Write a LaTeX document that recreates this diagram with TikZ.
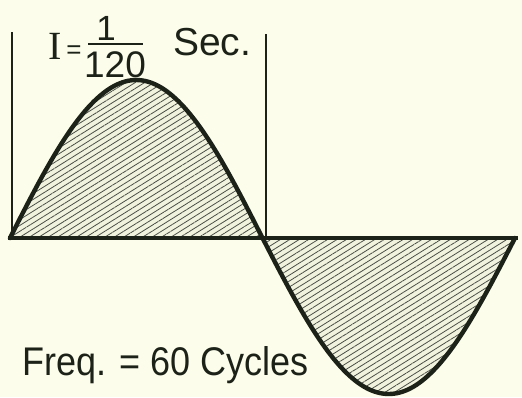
\documentclass[tikz,border=0pt]{standalone}
\usepackage{fontspec}
\setmainfont{Liberation Sans}
\newfontfamily\serifface{Liberation Serif}
\usetikzlibrary{patterns.meta}
\definecolor{paper}{HTML}{FCFDEB}
\definecolor{ink}{HTML}{1C2218}
\definecolor{hatchfill}{HTML}{F1F3DE}
\tikzset{
  wave/.style={ink, line width=4.4pt, line join=round, line cap=round},
  hatched/.style={preaction={fill=hatchfill}, pattern={Lines[angle=32, distance=5pt, line width=0.8pt]}, pattern color=ink!80},
  halfmark/.style={ink, line width=2.2pt},
  lbl/.style={ink, inner sep=0pt, anchor=base},
}
\begin{document}
\begin{tikzpicture}[x=1pt, y=-1pt]
        \useasboundingbox[fill=paper] (0,0) rectangle (522,397);

        % Hatched half waves
        \fill[hatched] plot[domain=0:180, samples=60] ({10+\x/180*252.5},{238-158*sin(\x)}) -- cycle;
        \fill[hatched] plot[domain=180:360, samples=60] ({10+\x/180*252.5},{238-156*sin(\x)}) -- cycle;

        % Axis and wave
        \coordinate (start) at (8,238);
        \coordinate (stop) at (518,238);
        \draw[ink, line width=3.2pt] (start) -- (stop);
        \draw[wave] plot[smooth, domain=0:180, samples=46] ({10+\x/180*252.5},{238-158*sin(\x)})
                    plot[smooth, domain=180:360, samples=46] ({10+\x/180*252.5},{238-156*sin(\x)});

        % Half period marks
        \coordinate (t0) at (12,238);
        \coordinate (t1) at (266,238);
        \draw[halfmark] (t0) -- ++(0,-206);
        \draw[halfmark] (t1) -- ++(0,-204);

        % Labels
        \node[lbl, font=\serifface\fontsize{40}{40}\selectfont] (ilab) at (55,59) {I};
        \node[lbl, font=\fontsize{26}{26}\selectfont] (eqlab) at (74,58) {=};
        \node[lbl, font=\fontsize{35}{35}\selectfont] (numlab) at (106,40) {1};
        \draw[ink, line width=2pt] (88,44) -- (143,44);
        \node[lbl, font=\fontsize{37}{37}\selectfont] (denlab) at (115,77) {120};
        \node[lbl, anchor=base west, font=\fontsize{39}{39}\selectfont] (seclab) at (173,55) {Sec.};
        \node[lbl, anchor=base west, xscale=0.9, font=\fontsize{40}{40}\selectfont] (freqlab) at (22,375) {Freq. = 60 Cycles};
    \end{tikzpicture}
\end{document}
